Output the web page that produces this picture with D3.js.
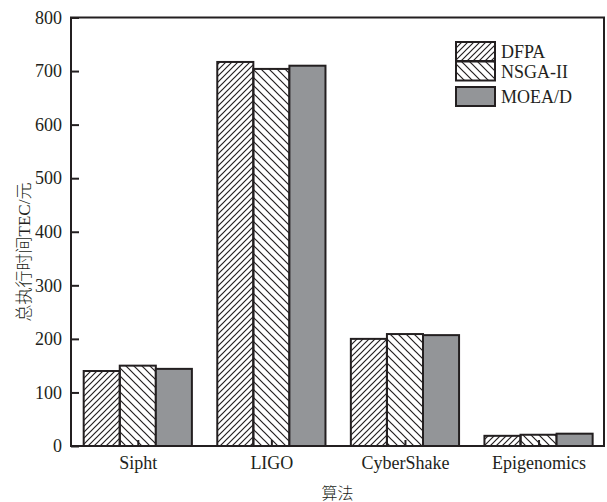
<!DOCTYPE html>
<html>
<head>
<meta charset="utf-8">
<script src="https://cdn.jsdelivr.net/npm/d3@7/dist/d3.min.js"></script>
<style>
  body { margin: 0; background: #fff; }
  svg text { fill: #231f20; }
</style>
</head>
<body>
<div id="chart"></div>
<script>
// data
const categories = ['Sipht', 'LIGO', 'CyberShake', 'Epigenomics']
const seriesNames = ['DFPA', 'NSGA-II', 'MOEA/D']
const dfpa = [140, 717, 200, 19]
const nsga = [150, 704, 209, 21]
const moead = [144, 710, 207, 23]
const yTicks = [0, 100, 200, 300, 400, 500, 600, 700, 800]

const width = 607
const height = 502
const ink = '#231f20'
const serif = '"Liberation Serif", "Times New Roman", serif'
const cjk = '"Liberation Serif", "Noto Sans CJK SC", sans-serif'

const chart = {left: 71, right: 604, top: 17.5, bottom: 446}

const svg = d3.select('#chart')
  .append('svg')
  .attr('width', width)
  .attr('height', height)

// hatch patterns
const defs = svg.append('defs')
defs.append('pattern')
  .attr('id', 'hatchF')
  .attr('patternUnits', 'userSpaceOnUse')
  .attr('width', 6)
  .attr('height', 6)
  .append('path')
  .attr('d', 'M0,6 L6,0 M-1.5,1.5 L1.5,-1.5 M4.5,7.5 L7.5,4.5')
  .attr('stroke', ink)
  .attr('stroke-width', 1.2)
defs.append('pattern')
  .attr('id', 'hatchB')
  .attr('patternUnits', 'userSpaceOnUse')
  .attr('width', 8)
  .attr('height', 8)
  .append('path')
  .attr('d', 'M0,0 L8,8 M-2,6 L2,10 M6,-2 L10,2')
  .attr('stroke', ink)
  .attr('stroke-width', 1.2)

const fills = ['url(#hatchF)', 'url(#hatchB)', '#939598']
const series = [dfpa, nsga, moead]

const x = d3.scaleLinear().domain([0.5, 4.49]).range([chart.left, chart.right])
const y = d3.scaleLinear().domain([0, 800]).range([chart.bottom, chart.top])
const barW = 0.27

// bars
series.forEach((vals, s) => {
  svg.append('g')
    .selectAll('rect')
    .data(vals)
    .enter()
    .append('rect')
    .attr('x', (d, i) => x(i + 1 + (s - 1.5) * barW))
    .attr('y', d => y(d))
    .attr('width', x(barW) - x(0))
    .attr('height', d => y(0) - y(d))
    .attr('fill', fills[s])
    .attr('stroke', ink)
    .attr('stroke-width', 2)
})

// frame
svg.append('rect')
  .attr('x', chart.left)
  .attr('y', chart.top)
  .attr('width', chart.right - chart.left)
  .attr('height', chart.bottom - chart.top)
  .attr('fill', 'none')
  .attr('stroke', ink)
  .attr('stroke-width', 2)

// axes
const yAxis = svg.append('g')
  .attr('transform', `translate(${chart.left},0)`)
  .call(d3.axisLeft(y).tickValues(yTicks).tickSizeInner(-8).tickSizeOuter(0).tickPadding(9))
const xAxis = svg.append('g')
  .attr('transform', `translate(0,${chart.bottom})`)
  .call(d3.axisBottom(x).tickValues([1, 2, 3, 4])
    .tickFormat(d => categories[d - 1])
    .tickSizeInner(-6).tickSizeOuter(0).tickPadding(10))

;[xAxis, yAxis].forEach(a => {
  a.select('.domain').remove()
  a.selectAll('line').attr('stroke', ink).attr('stroke-width', 2)
  a.selectAll('text')
    .style('font-family', serif)
    .style('font-size', '18px')
    .attr('fill', ink)
})

// axis titles
svg.append('text')
  .attr('x', (chart.left + chart.right) / 2)
  .attr('y', 499)
  .attr('text-anchor', 'middle')
  .style('font-family', cjk)
  .style('font-size', '16px')
  .style('font-weight', 300)
  .text('算法')

svg.append('text')
  .attr('transform', 'translate(30,252) rotate(-90)')
  .attr('text-anchor', 'middle')
  .style('font-family', cjk)
  .style('font-size', '17px')
  .style('font-weight', 300)
  .text('总执行时间TEC/元')

// legend
const legendTops = [42, 61.5, 87]
const legend = svg.append('g')
  .selectAll('.legend')
  .data(seriesNames)
  .enter()
  .append('g')
  .attr('class', 'legend')

legend.append('rect')
  .attr('x', 456)
  .attr('y', (d, i) => legendTops[i])
  .attr('width', 39)
  .attr('height', 19)
  .attr('fill', (d, i) => fills[i])
  .attr('stroke', ink)
  .attr('stroke-width', 2)

legend.append('text')
  .attr('x', 501)
  .attr('y', (d, i) => legendTops[i] + 16)
  .style('font-family', serif)
  .style('font-size', '18px')
  .text(d => d)
</script>
</body>
</html>
